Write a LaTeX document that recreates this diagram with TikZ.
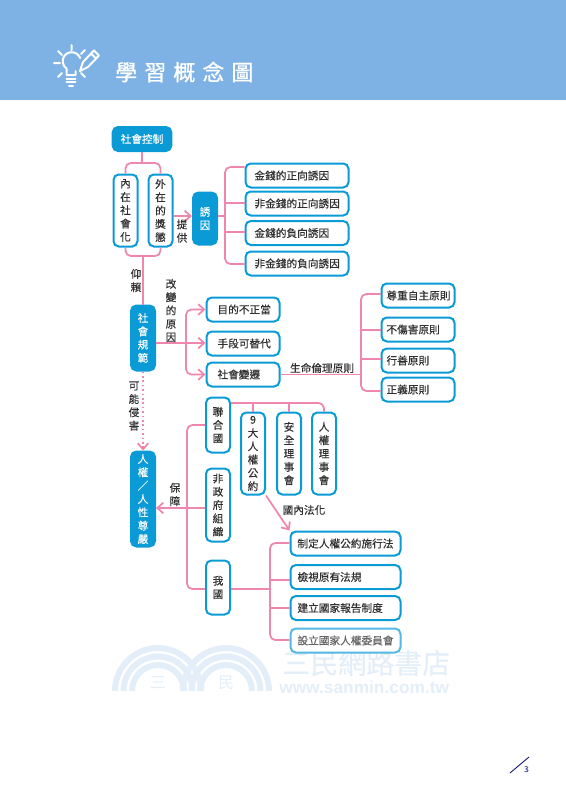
\documentclass[tikz,border=0pt]{standalone}
\usepackage{fontspec}
\setmainfont[FakeBold=0.25]{Noto Sans CJK TC}
\newfontfamily\titlefont[LetterSpace=32,FakeBold=0.9]{Noto Sans CJK TC}
\newfontfamily\plainfont{Noto Sans CJK TC}
\newfontfamily\markfont{Liberation Sans}
\usetikzlibrary{arrows.meta}
\definecolor{bandblue}{HTML}{7EB2E4}
\definecolor{mainblue}{HTML}{0A9AD6}
\definecolor{linkpink}{HTML}{EE86AE}
\definecolor{inkgray}{HTML}{303030}
\definecolor{markblue}{HTML}{E3EEF8}
\def\px{0.75pt}
\tikzset{
	softbox/.style={draw=mainblue,line width=1.5pt,rounded corners=4pt,fill=white,text=inkgray,inner sep=0pt,font=\fontsize{8}{10}\selectfont},
	rowbox/.style 2 args={softbox,minimum height=18pt,align=left,inner xsep=#2*\px,text width={(#1-2*#2)*\px}},
	colbox/.style={softbox,align=center,minimum width=18pt,minimum height=#1*\px},
	fillbox/.style={colbox=#1,fill=mainblue,draw=mainblue,text=white},
	notetext/.style={text=inkgray,inner sep=0pt,align=center,font=\fontsize{8}{10}\selectfont},
	link/.style={draw=linkpink,line width=1.3pt,rounded corners=4pt},
	icon/.style={draw=white,line width=1.5pt,line cap=round,line join=round}
}
\begin{document}
\begin{tikzpicture}[x=0.75pt,y=-0.75pt,>={Straight Barb[length=4.5pt,width=8pt]}]
	\useasboundingbox (0,0) rectangle (566,800);
	\fill[bandblue] (0,0) rectangle (566,100);
	% icon
	\draw[icon] (66.5,75) -- (66.5,68.5) arc[start angle=235,end angle=20,radius=9*\px] (75.5,75) -- (75.5,71) (66.5,75) -- (75.5,75);
	\draw[icon] (66.5,78.5) -- (75.5,78.5) (66.5,82) -- (75.5,82) (69,85.5) -- (73,85.5);
	\draw[icon] (71.5,45) -- (71.5,50) (54,63) -- (60,63) (58,51) -- (62,55) (81,54) -- (85,50) (58,77) -- (62,73) (81,73) -- (85,77);
	\draw[icon] (80,71) -- (83,62) -- (94,50.5) -- (99,55.5) -- (88,67) -- cycle (91,53.5) -- (96,58.5);
	\node[text=white,inner sep=0pt,anchor=west,font=\fontsize{16.5}{18}\selectfont\titlefont] (title) at (115,72) {學習概念圖};
	% watermark
	\foreach \cx in {158,226} \foreach \r in {43,34.5,26}
		\draw[markblue,line width=4.5pt] (\cx-\r,691) arc[start angle=180,end angle=0,radius=\r*\px];
	\node[text=markblue,font=\fontsize{12}{12}\selectfont\plainfont] (markleft) at (158,683) {三};
	\node[text=markblue,font=\fontsize{12}{12}\selectfont\plainfont] (markright) at (226,683) {民};
	\node[text=markblue,inner sep=0pt,anchor=west,font=\fontsize{21}{22}\selectfont] (markname) at (282,663) {三民網路書店};
	\node[text=markblue,inner sep=0pt,anchor=west,font=\fontsize{13}{16}\selectfont\markfont\bfseries] (markurl) at (279,687) {www.sanmin.com.tw};
	% links
	\coordinate (forktop) at (142,163);
	\coordinate (forkbot) at (143,256);
	\coordinate (giverow) at (183,216);
	\coordinate (hubtop) at (225,167);
	\coordinate (hubbot) at (225,264);
	\coordinate (normhub) at (186,343);
	\coordinate (ethictop) at (361,294);
	\coordinate (ethicbot) at (361,391);
	\coordinate (unrow) at (290,403);
	\coordinate (guardhub) at (187,508);
	\coordinate (lawhub) at (270,589);
	% nodes
	\node[fillbox=22,minimum width=44pt,minimum height=18pt] (control) at (142,139) {社會控制};
	\node[colbox=72] (inner) at (125.5,210.5) {內\\在\\社\\會\\化};
	\node[colbox=72] (outer) at (160.5,210.5) {外\\在\\的\\獎\\懲};
	\node[fillbox=52] (incentive) at (205,218.5) {誘\\因};
	\node[rowbox={103}{9}] (monpos) at (297,175.5) {金錢的正向誘因};
	\node[rowbox={103}{9}] (nonpos) at (297,203.5) {非金錢的正向誘因};
	\node[rowbox={103}{9}] (monneg) at (297,233) {金錢的負向誘因};
	\node[rowbox={103}{9}] (nonneg) at (297,263.5) {非金錢的負向誘因};
	\node[fillbox=65] (norm) at (143,338) {社\\會\\規\\範};
	\node[rowbox={73}{11}] (purpose) at (243,309.5) {目的不正當};
	\node[rowbox={73}{11}] (means) at (243,343.5) {手段可替代};
	\node[rowbox={73}{11}] (change) at (243,374.5) {社會變遷};
	\node[rowbox={73}{5}] (autonomy) at (418,295.5) {尊重自主原則};
	\node[rowbox={73}{5}] (nonharm) at (418,329.5) {不傷害原則};
	\node[rowbox={73}{5}] (benefit) at (418,360.5) {行善原則};
	\node[rowbox={73}{5}] (justice) at (418,389.5) {正義原則};
	\node[fillbox=95] (rights) at (143,499) {人\\權\\／\\人\\性\\尊\\嚴};
	\node[colbox=55] (un) at (218,425) {聯\\合\\國};
	\node[colbox=73] (ngo) at (218,505) {非\\政\\府\\組\\織};
	\node[colbox=54] (our) at (218,587.5) {我\\國};
	\node[colbox=82] (treaty) at (253,453.5) {9\\大\\人\\權\\公\\約};
	\node[colbox=82] (council) at (289,453.5) {安\\全\\理\\事\\會};
	\node[colbox=82] (hrc) at (324,453.5) {人\\權\\理\\事\\會};
	\node[rowbox={110}{7}] (enact) at (345.5,543.5) {制定人權公約施行法};
	\node[rowbox={110}{7}] (review) at (345.5,577) {檢視原有法規};
	\node[rowbox={110}{7}] (report) at (345.5,608) {建立國家報告制度};
	\node[rowbox={110}{7},draw=mainblue!70,text=inkgray!75] (commission) at (345.5,640.5) {設立國家人權委員會};
	% connectors
	\draw[link] (control.south) -- (forktop);
	\draw[link] (inner.north) |- (forktop) -| (outer.north);
	\draw[link] (inner.south) |- (forkbot) -| (outer.south);
	\draw[link] (forkbot) -- (norm.north);
	\draw[link,->] (outer.east|-giverow) -- (incentive.west|-giverow);
	\draw[link] (incentive.east|-giverow) -- (hubtop|-giverow);
	\draw[link] (monpos.west|-hubtop) -- (hubtop) -- (hubbot) -- (nonneg.west|-hubbot);
	\foreach \n/\y in {nonpos/203,monneg/232} \draw[link] (hubtop|-0,\y) -- (\n.west|-0,\y);
	\draw[link] (norm.east|-normhub) -- (normhub);
	\draw[link,->] (normhub) |- (purpose.west);
	\draw[link,->] (normhub) -- (means.west|-normhub);
	\draw[link,->] (normhub) |- (change.west);
	\draw[link] (change.east) -- (change.east-|ethictop);
	\draw[link] (autonomy.west|-ethictop) -- (ethictop) -- (ethicbot) -- (justice.west|-ethicbot);
	\foreach \n/\y in {nonharm/330,benefit/359} \draw[link] (ethictop|-0,\y) -- (\n.west|-0,\y);
	\draw[link,->,dotted] (norm.south) -- (rights.north);
	\draw[link] (un.east|-unrow) -| (hrc.north);
	\foreach \n in {treaty,council} \draw[link] (\n.north) -- (\n.north|-unrow);
	\draw[link] (un.west) -| (guardhub) |- (our.west|-0,589);
	\draw[link,->] (ngo.west|-guardhub) -- (rights.east|-guardhub);
	\draw[link] (our.east|-lawhub) -- (lawhub);
	\draw[link] (enact.west|-0,543) -| (lawhub) |- (commission.west|-0,640);
	\foreach \n/\y in {review/580,report/608} \draw[link] (lawhub|-0,\y) -- (\n.west|-0,\y);
	\draw[link,->] (treaty.south east) -- (enact.north west);
	% labels
	\node[notetext] (givelabel) at (182,231) {提\\供};
	\node[notetext] (relylabel) at (136,280.5) {仰\\賴};
	\node[notetext] (causelabel) at (171,310.5) {改\\變\\的\\原\\因};
	\node[notetext] (ethiclabel) at (322,368) {生命倫理原則};
	\node[notetext] (harmlabel) at (134,406) {可\\能\\侵\\害};
	\node[notetext] (guardlabel) at (175,494.5) {保\\障};
	\node[notetext] (lawlabel) at (304,510) {國內法化};
	% page number
	\coordinate (slashlow) at (510,773);
	\coordinate (slashhigh) at (529,757);
	\draw[draw=blue!40!black,line width=0.6pt] (slashlow) -- (slashhigh);
	\node[text=blue!30!gray,inner sep=0pt,font=\fontsize{6.5}{8}\selectfont] (pagenum) at (526.5,769) {3};
\end{tikzpicture}
\end{document}
